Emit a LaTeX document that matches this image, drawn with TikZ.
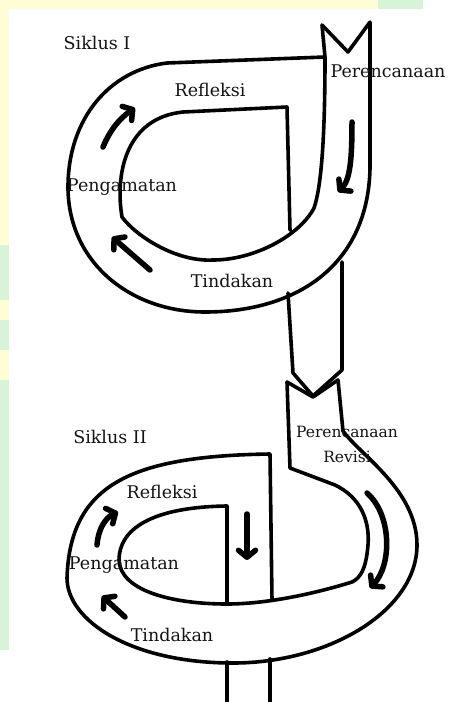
\documentclass[tikz,border=0pt]{standalone}
\usepackage{fontspec}
\setmainfont{DejaVu Serif}
\usetikzlibrary{arrows.meta}
\definecolor{bgyellow}{HTML}{FFFDD6}
\definecolor{bggreen}{HTML}{D8F4D6}
\definecolor{txt}{HTML}{141414}
\begin{document}
\begin{tikzpicture}[x=1pt,y=-1pt,
  outline/.style={line width=3.6pt, line join=round, line cap=round},
  flow/.style={line width=5.5pt, line cap=round,
    -{Straight Barb[length=7pt,width=17pt,round]}},
  lbl/.style={font=\fontsize{17.5}{20}\selectfont, text=txt, inner sep=0pt, anchor=base},
  lblsmall/.style={lbl, font=\fontsize{15.5}{18}\selectfont}]
\useasboundingbox (0,0) rectangle (449,702);
\fill[white] (0,0) rectangle (449,702);
% background strips
\fill[bgyellow] (0,0) rectangle (423,9);
\fill[bggreen] (378,0) rectangle (423,9);
\fill[bgyellow] (0,0) rectangle (9,650);
\fill[bggreen] (0,245) rectangle (9,300);
\fill[bggreen] (0,320) rectangle (9,350);
\fill[bggreen] (0,380) rectangle (9,650);

% ---------- Siklus I ----------
\draw[outline] (325,57) -- (167,63)
  .. controls (110,70) and (68,118) .. (68,187)
  .. controls (68,262) and (130,312) .. (205,312)
  .. controls (300,312) and (372,262) .. (370,160)
  -- (370,22) -- (348,52) -- (322,25) -- (325,57)
  .. controls (325,130) and (322,185) .. (314,208)
  .. controls (300,235) and (255,260) .. (213,260)
  .. controls (175,262) and (135,235) .. (122,217)
  .. controls (115,175) and (125,118) .. (183,112)
  -- (287,107) -- (290,230);

% connector between cycles
\draw[outline] (288,293) -- (293,373) -- (313,396) -- (342,370) -- (342,262);

% ---------- Siklus II ----------
\draw[outline] (290,468) -- (287,382) -- (313,397) -- (338,380) -- (343,431)
  .. controls (360,455) and (417,490) .. (417,545)
  .. controls (417,610) and (330,663) .. (233,663)
  .. controls (130,663) and (67,620) .. (67,578)
  .. controls (70,485) and (130,456) .. (270,454)
  -- (272,600);
\draw[outline] (290,468) -- (335,485)
  .. controls (360,497) and (370,520) .. (368,545)
  .. controls (366,570) and (360,578) .. (352,582)
  .. controls (320,592) and (270,604) .. (227,604)
  .. controls (170,604) and (120,590) .. (119,560)
  .. controls (119,530) and (150,507) .. (227,506)
  -- (227,604);
\draw[outline] (227,662) -- (227,705);
\draw[outline] (270,659) -- (270,705);

% ---------- flow arrows ----------
\draw[flow] (103,147) .. controls (110,130) and (120,118) .. (135,108);
\draw[flow] (352,122) .. controls (352,160) and (350,180) .. (338,192);
\draw[flow] (150,270) -- (112,237);
\draw[flow] (367,493) .. controls (392,515) and (392,565) .. (370,588);
\draw[flow] (97,545) .. controls (98,530) and (105,518) .. (118,512);
\draw[flow] (125,617) -- (102,596);
\draw[flow] (247,514) -- (247,560);

% ---------- labels ----------
\node[lbl] (s1) at (97,49) {Siklus I};
\node[lbl] (p1) at (388,77) {Perencanaan};
\node[lbl] (r1) at (210,96) {Refleksi};
\node[lbl] (g1) at (122,191) {Pengamatan};
\node[lbl] (t1) at (232,287) {Tindakan};
\node[lbl] (s2) at (110,443) {Siklus II};
\node[lblsmall] (p2) at (347,437) {Perencanaan};
\node[lblsmall] (v2) at (347,462) {Revisi};
\node[lbl] (r2) at (162,498) {Refleksi};
\node[lbl] (g2) at (124,569) {Pengamatan};
\node[lbl] (t2) at (172,641) {Tindakan};
\end{tikzpicture}
\end{document}
